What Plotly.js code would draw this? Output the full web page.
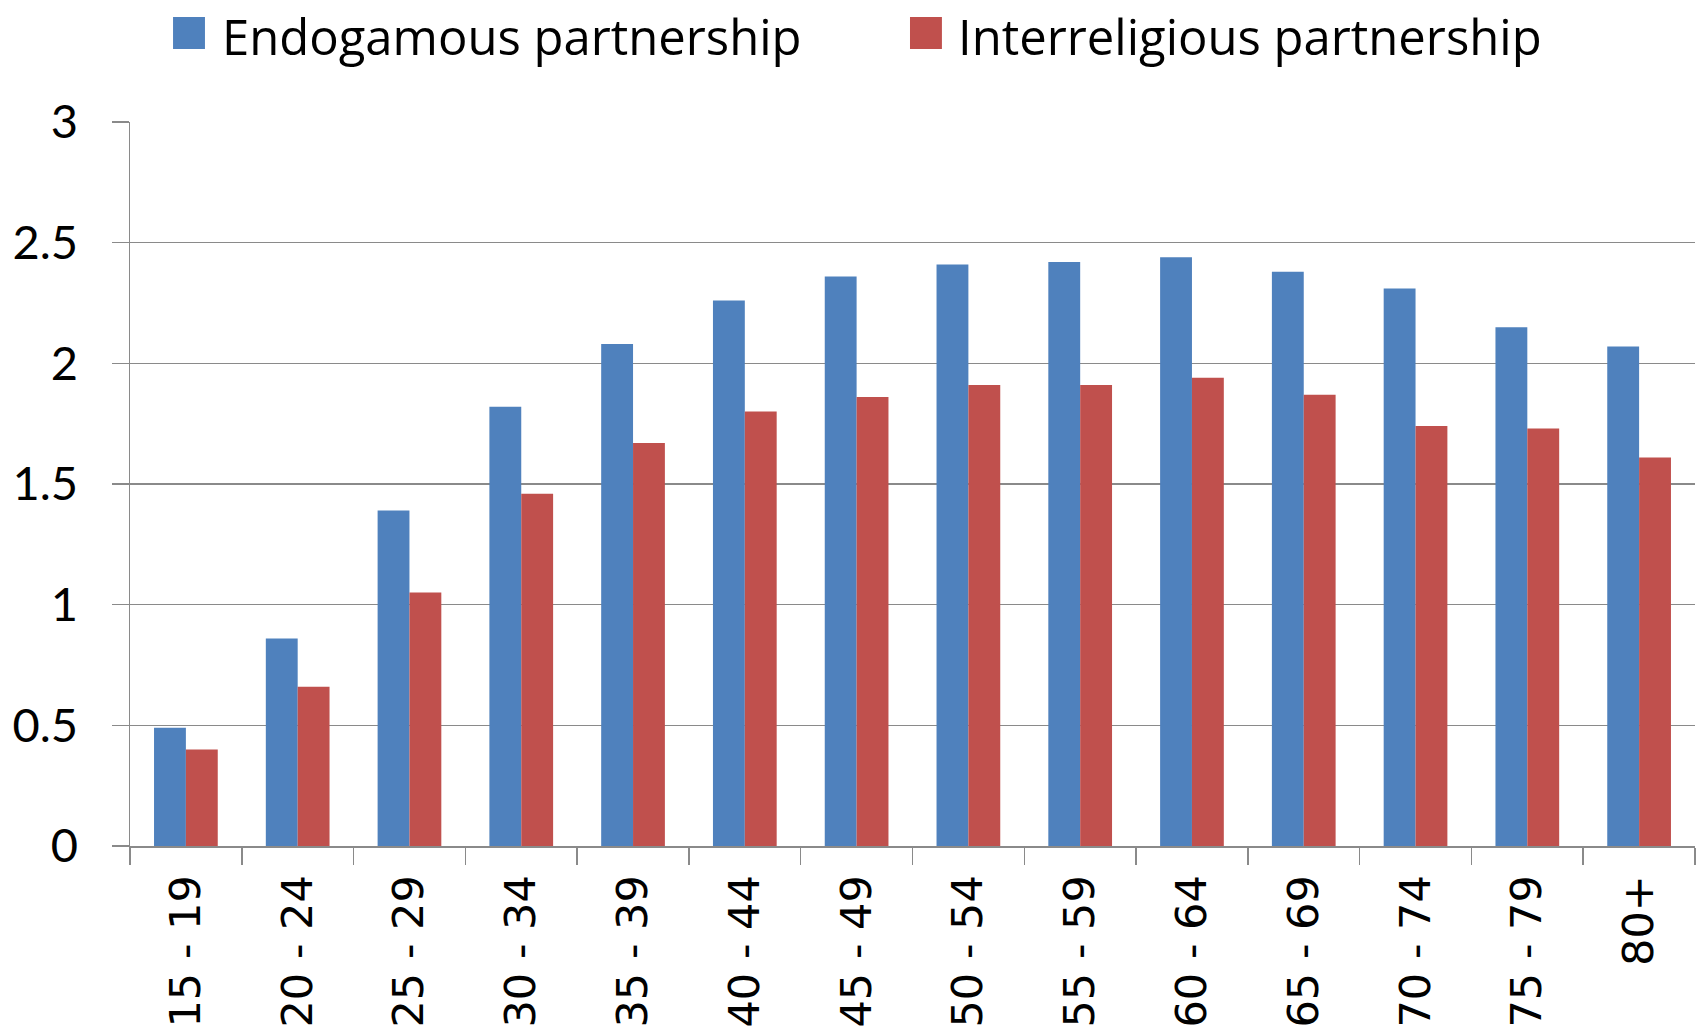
<!DOCTYPE html>
<html>
<head>
<meta charset="utf-8">
<script src="https://cdn.plot.ly/plotly-3.0.1.min.js"></script>
<style>
  html, body { margin: 0; padding: 0; background: #ffffff; }
  #chart { width: 1698px; height: 1030px; }
</style>
</head>
<body>
<div id="chart"></div>
<script>
const ageGroups = ["15 - 19", "20 - 24", "25 - 29", "30 - 34", "35 - 39", "40 - 44", "45 - 49",
                   "50 - 54", "55 - 59", "60 - 64", "65 - 69", "70 - 74", "75 - 79", "80+"];
const endogamous = [0.49, 0.86, 1.39, 1.82, 2.08, 2.26, 2.36, 2.41, 2.42, 2.44, 2.38, 2.31, 2.15, 2.07];
const interreligious = [0.40, 0.66, 1.05, 1.46, 1.67, 1.80, 1.86, 1.91, 1.91, 1.94, 1.87, 1.74, 1.73, 1.61];
const seriesNames = ["Endogamous partnership", "Interreligious partnership"];
const seriesColors = ["#4F81BD", "#C0504D"];
const yTicks = [0, 0.5, 1, 1.5, 2, 2.5, 3];
const yTickText = ["0", "0.5", "1", "1.5", "2", "2.5", "3"];

const traces = [
  { type: "bar", name: seriesNames[0], x: ageGroups, y: endogamous,
    marker: { color: seriesColors[0] }, hoverinfo: "x+y" },
  { type: "bar", name: seriesNames[1], x: ageGroups, y: interreligious,
    marker: { color: seriesColors[1] }, hoverinfo: "x+y" }
];

const gridCol = "#8a8a8a";

const layout = {
  width: 1698, height: 1030,
  paper_bgcolor: "#ffffff", plot_bgcolor: "#ffffff",
  margin: { l: 130, r: 3, t: 122, b: 184, pad: 0 },
  barmode: "group", bargap: 0.43, bargroupgap: 0,
  showlegend: false,
  xaxis: {
    type: "category",
    tickangle: -90,
    tickson: "boundaries",
    ticks: "outside", ticklen: 17, tickwidth: 1.5, tickcolor: gridCol,
    ticklabelstandoff: 10,
    showline: true, linecolor: gridCol, linewidth: 2,
    showgrid: false,
    tickfont: { family: "DejaVu Sans", size: 43, color: "#000000" }
  },
  yaxis: {
    range: [0, 3],
    tickmode: "array", tickvals: yTicks, ticktext: yTickText,
    ticks: "outside", ticklen: 17, tickwidth: 1.5, tickcolor: gridCol,
    ticklabelstandoff: 24,
    showline: true, linecolor: gridCol, linewidth: 1.5,
    showgrid: true, gridcolor: gridCol, gridwidth: 1.5,
    zeroline: false,
    tickfont: { family: "Lato, Open Sans, sans-serif", size: 47, color: "#000000" }
  },
  shapes: [
    { type: "rect", xref: "paper", yref: "paper", x0: 0.0275, x1: 0.0479, y0: 1.1008, y1: 1.145,
      fillcolor: seriesColors[0], line: { width: 0 } },
    { type: "rect", xref: "paper", yref: "paper", x0: 0.4984, x1: 0.5188, y0: 1.1008, y1: 1.145,
      fillcolor: seriesColors[1], line: { width: 0 } }
  ],
  annotations: [
    { xref: "paper", yref: "paper", x: 0.0572, y: 1.119, xanchor: "left", yanchor: "middle",
      text: seriesNames[0], showarrow: false,
      font: { family: "Open Sans, Lato, sans-serif", size: 49, color: "#000000" } },
    { xref: "paper", yref: "paper", x: 0.5275, y: 1.119, xanchor: "left", yanchor: "middle",
      text: seriesNames[1], showarrow: false,
      font: { family: "Open Sans, Lato, sans-serif", size: 49, color: "#000000" } }
  ]
};

Plotly.newPlot("chart", traces, layout, { displayModeBar: false, staticPlot: true });
</script>
</body>
</html>
